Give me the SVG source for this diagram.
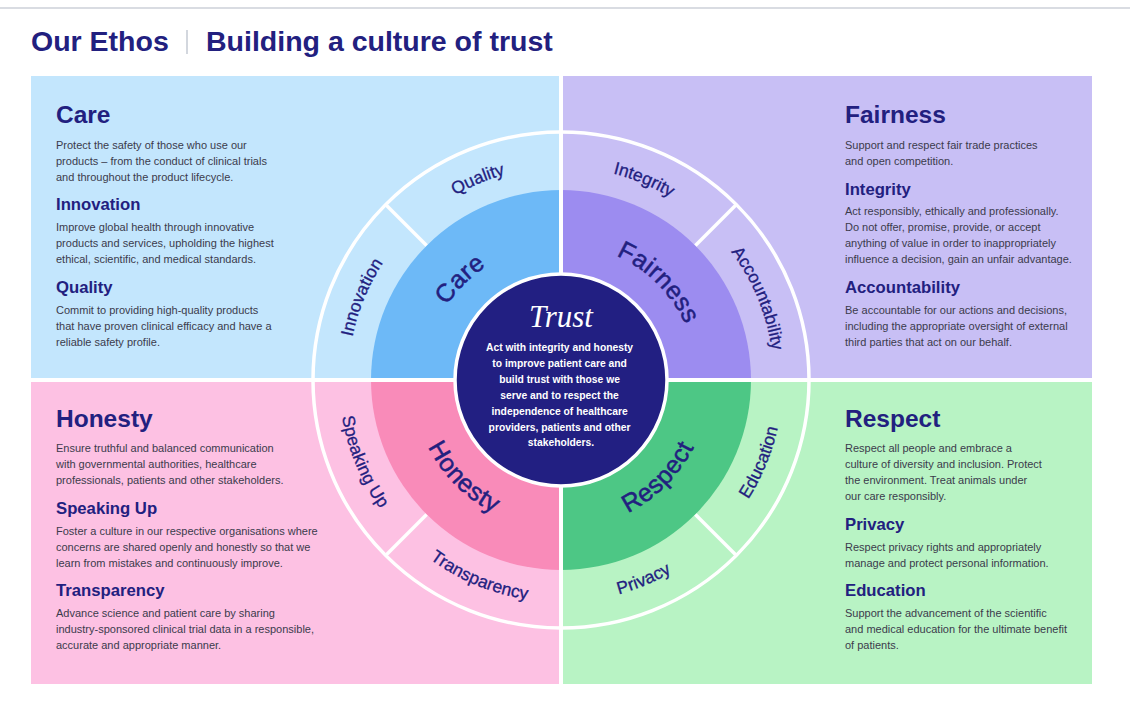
<svg xmlns="http://www.w3.org/2000/svg" width="1130" height="720" viewBox="0 0 1130 720">
<style>
.h1{font-family:"Liberation Sans",Arial,sans-serif;font-weight:bold;font-size:24.5px;fill:#22207f}
.h2{font-family:"Liberation Sans",Arial,sans-serif;font-weight:bold;font-size:16.7px;fill:#22207f}
.b{font-family:"Liberation Sans",Arial,sans-serif;font-size:11px;fill:#3b3b4c}
.ttl{font-family:"Liberation Sans",Arial,sans-serif;font-weight:bold;font-size:28.5px;fill:#22207f}
.mid{font-family:"Liberation Sans",Arial,sans-serif;font-size:25px;fill:#22207f;letter-spacing:0.5px;stroke:#22207f;stroke-width:0.5}
.ring{font-family:"Liberation Sans",Arial,sans-serif;font-size:17.5px;fill:#22207f;stroke:#22207f;stroke-width:0.3}
.ctr{font-family:"Liberation Sans",Arial,sans-serif;font-weight:bold;font-size:10.3px;fill:#ffffff}
.div{stroke:#ffffff;stroke-width:3.5;fill:none}
</style>
<defs>
<path id="pCare" d="M429.6,415.2 A136,136 0 0 1 596.2,248.6"/>
<path id="pFair" d="M525.8,248.6 A136,136 0 0 1 692.4,415.2"/>
<path id="pHon" d="M417.1,341.4 A149,149 0 0 0 599.6,523.9"/>
<path id="pResp" d="M522.4,523.9 A149,149 0 0 0 704.9,341.4"/>
<path id="pInn" d="M372.1,478.3 A213,213 0 0 1 497.0,176.9"/>
<path id="pQual" d="M357.9,316.0 A213,213 0 0 1 659.3,191.1"/>
<path id="pInt" d="M462.7,191.1 A213,213 0 0 1 764.1,316.0"/>
<path id="pAcc" d="M625.0,176.9 A213,213 0 0 1 749.9,478.3"/>
<path id="pEdu" d="M627.8,591.7 A222,222 0 0 0 757.9,277.5"/>
<path id="pPriv" d="M458.5,576.9 A222,222 0 0 0 772.7,446.8"/>
<path id="pTran" d="M349.3,446.8 A222,222 0 0 0 663.5,576.9"/>
<path id="pSpk" d="M364.1,277.5 A222,222 0 0 0 494.2,591.7"/>
</defs>
<rect width="1130" height="720" fill="#ffffff"/>
<line x1="0" y1="8" x2="1130" y2="8" stroke="#d9dce2" stroke-width="2"/>
<g id="title">
<text class="ttl" x="31" y="51">Our Ethos</text>
<line x1="187" y1="30" x2="187" y2="54" stroke="#c5cad3" stroke-width="1.5"/>
<text class="ttl" x="206" y="51">Building a culture of trust</text>
</g>
<g id="care">
<rect x="31" y="76" width="528" height="302" fill="#c3e6fd"/>
<text class="h1" x="56" y="123">Care</text>
<text class="b" x="56" y="149">Protect the safety of those who use our</text>
<text class="b" x="56" y="165">products – from the conduct of clinical trials</text>
<text class="b" x="56" y="181">and throughout the product lifecycle.</text>
<text class="h2" x="56" y="210">Innovation</text>
<text class="b" x="56" y="231">Improve global health through innovative</text>
<text class="b" x="56" y="247">products and services, upholding the highest</text>
<text class="b" x="56" y="263">ethical, scientific, and medical standards.</text>
<text class="h2" x="56" y="293">Quality</text>
<text class="b" x="56" y="314">Commit to providing high-quality products</text>
<text class="b" x="56" y="330">that have proven clinical efficacy and have a</text>
<text class="b" x="56" y="346">reliable safety profile.</text>
</g>
<g id="fairness">
<rect x="563" y="76" width="529" height="302" fill="#c8bff5"/>
<text class="h1" x="845" y="123">Fairness</text>
<text class="b" x="845" y="149">Support and respect fair trade practices</text>
<text class="b" x="845" y="165">and open competition.</text>
<text class="h2" x="845" y="195">Integrity</text>
<text class="b" x="845" y="215">Act responsibly, ethically and professionally.</text>
<text class="b" x="845" y="231">Do not offer, promise, provide, or accept</text>
<text class="b" x="845" y="247">anything of value in order to inappropriately</text>
<text class="b" x="845" y="263">influence a decision, gain an unfair advantage.</text>
<text class="h2" x="845" y="293">Accountability</text>
<text class="b" x="845" y="314">Be accountable for our actions and decisions,</text>
<text class="b" x="845" y="330">including the appropriate oversight of external</text>
<text class="b" x="845" y="346">third parties that act on our behalf.</text>
</g>
<g id="honesty">
<rect x="31" y="382" width="528" height="302" fill="#fdc1e3"/>
<text class="h1" x="56" y="427">Honesty</text>
<text class="b" x="56" y="452">Ensure truthful and balanced communication</text>
<text class="b" x="56" y="468">with governmental authorities, healthcare</text>
<text class="b" x="56" y="484">professionals, patients and other stakeholders.</text>
<text class="h2" x="56" y="514">Speaking Up</text>
<text class="b" x="56" y="535">Foster a culture in our respective organisations where</text>
<text class="b" x="56" y="551">concerns are shared openly and honestly so that we</text>
<text class="b" x="56" y="567">learn from mistakes and continuously improve.</text>
<text class="h2" x="56" y="596">Transparency</text>
<text class="b" x="56" y="617">Advance science and patient care by sharing</text>
<text class="b" x="56" y="633">industry-sponsored clinical trial data in a responsible,</text>
<text class="b" x="56" y="649">accurate and appropriate manner.</text>
</g>
<g id="respect">
<rect x="563" y="382" width="529" height="302" fill="#b8f3c4"/>
<text class="h1" x="845" y="427">Respect</text>
<text class="b" x="845" y="452">Respect all people and embrace a</text>
<text class="b" x="845" y="468">culture of diversity and inclusion. Protect</text>
<text class="b" x="845" y="484">the environment. Treat animals under</text>
<text class="b" x="845" y="500">our care responsibly.</text>
<text class="h2" x="845" y="530">Privacy</text>
<text class="b" x="845" y="551">Respect privacy rights and appropriately</text>
<text class="b" x="845" y="567">manage and protect personal information.</text>
<text class="h2" x="845" y="596">Education</text>
<text class="b" x="845" y="617">Support the advancement of the scientific</text>
<text class="b" x="845" y="633">and medical education for the ultimate benefit</text>
<text class="b" x="845" y="649">of patients.</text>
</g>
<g id="wheel">
<path d="M561,380 L371,380 A190,190 0 0 1 561,190 Z" fill="#6db9f7"/>
<path d="M561,380 L561,190 A190,190 0 0 1 751,380 Z" fill="#9c8cf0"/>
<path d="M561,380 L751,380 A190,190 0 0 1 561,570 Z" fill="#4dc785"/>
<path d="M561,380 L561,570 A190,190 0 0 1 371,380 Z" fill="#f98bb9"/>
<circle cx="561" cy="380" r="248" class="div"/>
</g>
<g id="connectors">
<line x1="561" y1="130" x2="561" y2="630" stroke="#ffffff" stroke-width="4"/>
<line x1="311" y1="380" x2="811" y2="380" stroke="#ffffff" stroke-width="4"/>
<line x1="426.6" y1="245.6" x2="385.6" y2="204.6" class="div"/>
<line x1="695.4" y1="245.6" x2="736.4" y2="204.6" class="div"/>
<line x1="695.4" y1="514.4" x2="736.4" y2="555.4" class="div"/>
<line x1="426.6" y1="514.4" x2="385.6" y2="555.4" class="div"/>
</g>
<g id="wheel-labels">
<text class="mid"><textPath href="#pCare" startOffset="50%" text-anchor="middle">Care</textPath></text>
<text class="mid"><textPath href="#pFair" startOffset="50%" text-anchor="middle">Fairness</textPath></text>
<text class="mid"><textPath href="#pHon" startOffset="50%" text-anchor="middle">Honesty</textPath></text>
<text class="mid"><textPath href="#pResp" startOffset="50%" text-anchor="middle">Respect</textPath></text>
<text class="ring"><textPath href="#pInn" startOffset="50%" text-anchor="middle">Innovation</textPath></text>
<text class="ring"><textPath href="#pQual" startOffset="50%" text-anchor="middle">Quality</textPath></text>
<text class="ring"><textPath href="#pInt" startOffset="50%" text-anchor="middle">Integrity</textPath></text>
<text class="ring"><textPath href="#pAcc" startOffset="50%" text-anchor="middle">Accountability</textPath></text>
<text class="ring"><textPath href="#pEdu" startOffset="50%" text-anchor="middle">Education</textPath></text>
<text class="ring"><textPath href="#pPriv" startOffset="50%" text-anchor="middle">Privacy</textPath></text>
<text class="ring"><textPath href="#pTran" startOffset="50%" text-anchor="middle">Transparency</textPath></text>
<text class="ring"><textPath href="#pSpk" startOffset="50%" text-anchor="middle">Speaking Up</textPath></text>
</g>
<g id="trust">
<circle cx="561" cy="380" r="106" fill="#221f82" stroke="#ffffff" stroke-width="3.5"/>
<text x="561" y="327" text-anchor="middle" font-family="'Liberation Serif',serif" font-style="italic" font-size="31" fill="#ffffff">Trust</text>
<text class="ctr" text-anchor="middle">
<tspan x="561" y="351">Act with integrity and honesty</tspan>
<tspan x="561" y="367">to improve patient care and</tspan>
<tspan x="561" y="383">build trust with those we</tspan>
<tspan x="561" y="399">serve and to respect the</tspan>
<tspan x="561" y="415">independence of healthcare</tspan>
<tspan x="561" y="431">providers, patients and other</tspan>
<tspan x="561" y="446">stakeholders.</tspan>
</text>
</g>
</svg>
